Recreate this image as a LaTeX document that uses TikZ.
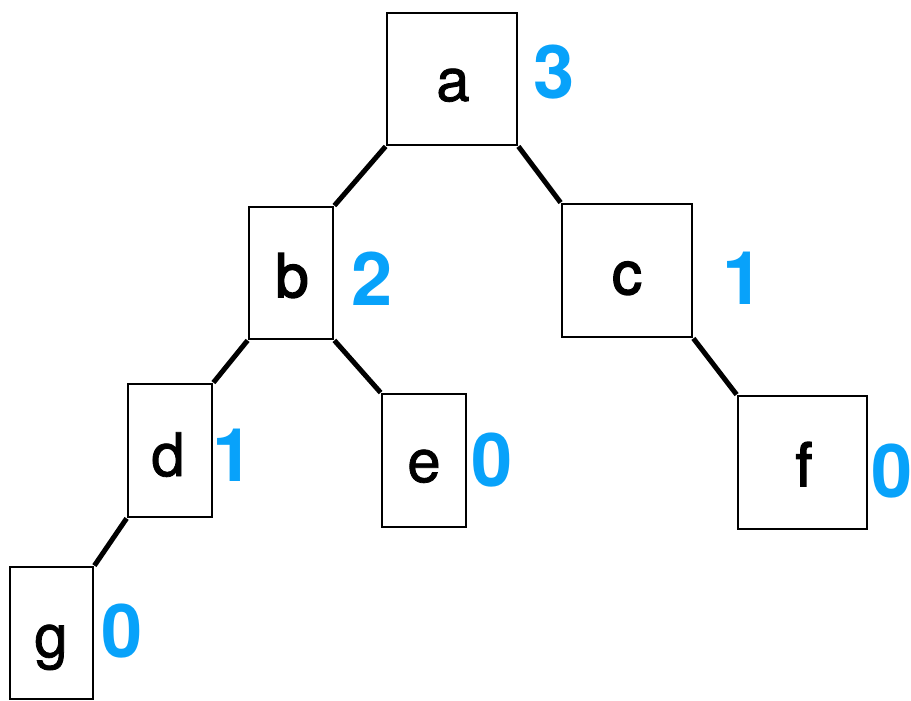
\documentclass[tikz,border=0pt]{standalone}
\usepackage{fontspec}
\setmainfont{TeX Gyre Heros}
\newfontfamily\keyfont{TeX Gyre Heros}[FakeBold=1.3]
\newfontfamily\keyheavy{TeX Gyre Heros}[FakeBold=2.6]
\definecolor{heightblue}{RGB}{8,162,250}
\tikzset{
  treebox/.style={draw=black, line width=2.8pt, inner sep=0pt, rectangle},
  treeedge/.style={draw=black, line width=5pt, line cap=butt},
  keytext/.style={anchor=base, inner sep=0pt, text=black, font=\fontsize{60}{60}\keyfont},
  keybold/.style={anchor=base, inner sep=0pt, text=black, font=\fontsize{60}{60}\keyheavy},
  heighttext/.style={anchor=base, inner sep=0pt, text=heightblue, font=\fontsize{74}{74}\selectfont\bfseries},
}
\begin{document}
\begin{tikzpicture}[x=1pt, y=-1pt]
  \useasboundingbox (0,0) rectangle (911,701);

  % tree nodes as empty boxes
  \node[treebox, minimum width=130pt, minimum height=132pt] (a) at (452,79) {};
  \node[treebox, minimum width=84pt,  minimum height=132pt] (b) at (291,273) {};
  \node[treebox, minimum width=130pt, minimum height=133pt] (c) at (627,270.5) {};
  \node[treebox, minimum width=84pt,  minimum height=133pt] (d) at (170,450.5) {};
  \node[treebox, minimum width=84pt,  minimum height=133pt] (e) at (424,460.5) {};
  \node[treebox, minimum width=129pt, minimum height=133pt] (f) at (802.5,462.5) {};
  \node[treebox, minimum width=83pt,  minimum height=132pt] (g) at (51.5,633) {};

  % keys inside the boxes
  \node[keytext] (a-key) at (453,101) {a};
  \node[keybold] (b-key) at (292,297) {b};
  \node[keybold] (c-key) at (627,294) {c};
  \node[keytext] (d-key) at (168,476) {d};
  \node[keytext] (e-key) at (424,482) {e};
  \node[keybold] (f-key) at (804,486) {f};
  \node[keytext] (g-key) at (51,657) {g};

  % subtree heights
  \node[heighttext] (a-h) at (554,99)  {3};
  \node[heighttext] (b-h) at (372,305) {2};
  \node[heighttext] (c-h) at (743,304) {1};
  \node[heighttext] (d-h) at (233,481) {1};
  \node[heighttext] (e-h) at (492,486) {0};
  \node[heighttext] (f-h) at (892,497) {0};
  \node[heighttext] (g-h) at (122,657) {0};

  % parent-child links, corner to corner
  \draw[treeedge] (a.south west) -- (b.north east);
  \draw[treeedge] (a.south east) -- (c.north west);
  \draw[treeedge] (b.south west) -- (d.north east);
  \draw[treeedge] (b.south east) -- (e.north west);
  \draw[treeedge] (c.south east) -- (f.north west);
  \draw[treeedge] (d.south west) -- (g.north east);
\end{tikzpicture}
\end{document}
